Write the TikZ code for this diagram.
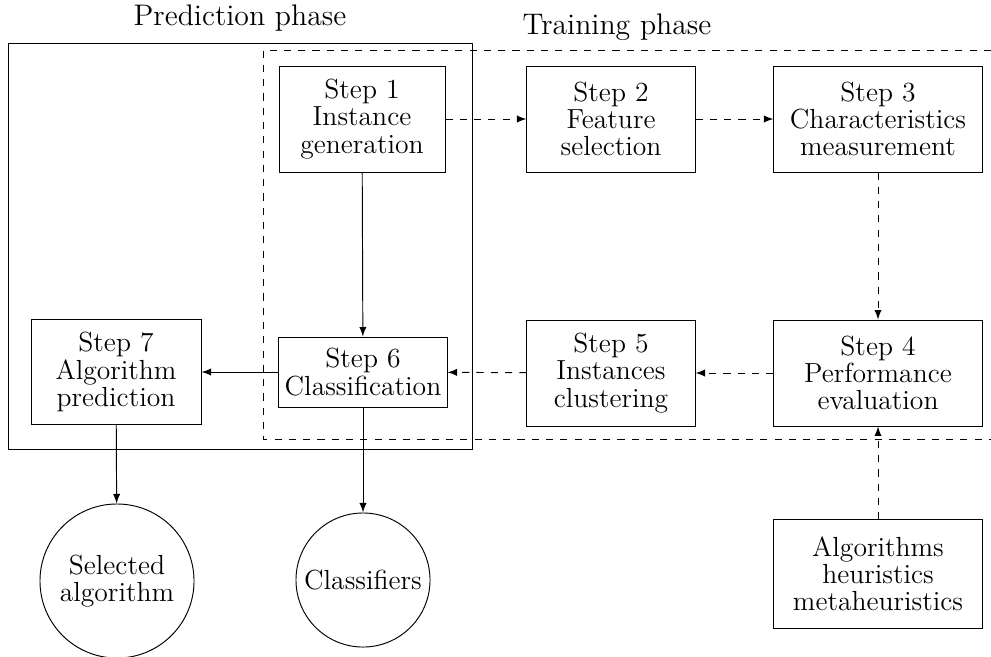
\documentclass[tikz,border=0pt]{standalone}
\usetikzlibrary{arrows}
\begin{document}
\begin{tikzpicture}[x=0.42pt,y=-0.42pt,>=latex,
  stepbox/.style={draw,align=center,inner sep=0pt,font=\fontsize{11.6}{11.4}\selectfont},
  outbox/.style={draw,circle,align=center,inner sep=0pt,font=\fontsize{11.6}{11.4}\selectfont},
  title/.style={font=\fontsize{12.5}{14}\selectfont},
  flow/.style={->},
  train/.style={->,dashed}]
\useasboundingbox (0,0) rectangle (991,656);
% phase frames
\draw (8,43) rectangle (472,449);
\draw[dashed] (991,50) -- (263,50) -- (263,439) -- (991,439);
\node[title] (pp) at (240,18) {Prediction phase};
\node[title] (tp) at (617,27) {Training phase};
% steps
\node[stepbox,minimum width=69.7pt,minimum height=44.5pt] (s1) at (362,119) {Step 1\\Instance\\generation};
\node[stepbox,minimum width=70.6pt,minimum height=44.5pt] (s2) at (611,119) {Step 2\\Feature\\selection};
\node[stepbox,minimum width=87.4pt,minimum height=44.5pt] (s3) at (878,119) {Step 3\\Characteristics\\measurement};
\node[stepbox,minimum width=87.4pt,minimum height=44.5pt] (s4) at (878,373) {Step 4\\Performance\\evaluation};
\node[stepbox,minimum width=70.6pt,minimum height=44.5pt] (s5) at (611,373) {Step 5\\Instances\\clustering};
\node[stepbox,minimum width=70.6pt,minimum height=29.4pt] (s6) at (363,372) {Step 6\\Classification};
\node[stepbox,minimum width=71.4pt,minimum height=44.1pt] (s7) at (116,372) {Step 7\\Algorithm\\prediction};
\node[stepbox,minimum width=87.4pt,minimum height=45.4pt] (alg) at (878,574) {Algorithms\\heuristics\\metaheuristics};
\node[outbox,minimum size=64.7pt] (sel) at (117,581) {Selected\\algorithm};
\node[outbox,minimum size=56.3pt] (cls) at (363,580) {Classifiers};
% connectors
\draw[train] (s1) -- (s2);
\draw[train] (s2) -- (s3);
\draw[train] (s3) -- (s4);
\draw[train] (s4) -- (s5);
\draw[train] (s5) -- (s6);
\draw[train] (alg) -- (s4);
\draw[flow] (s1) -- (s6);
\draw[flow] (s6) -- (s7);
\draw[flow] (s7) -- (sel);
\draw[flow] (s6) -- (cls);
\end{tikzpicture}
\end{document}
